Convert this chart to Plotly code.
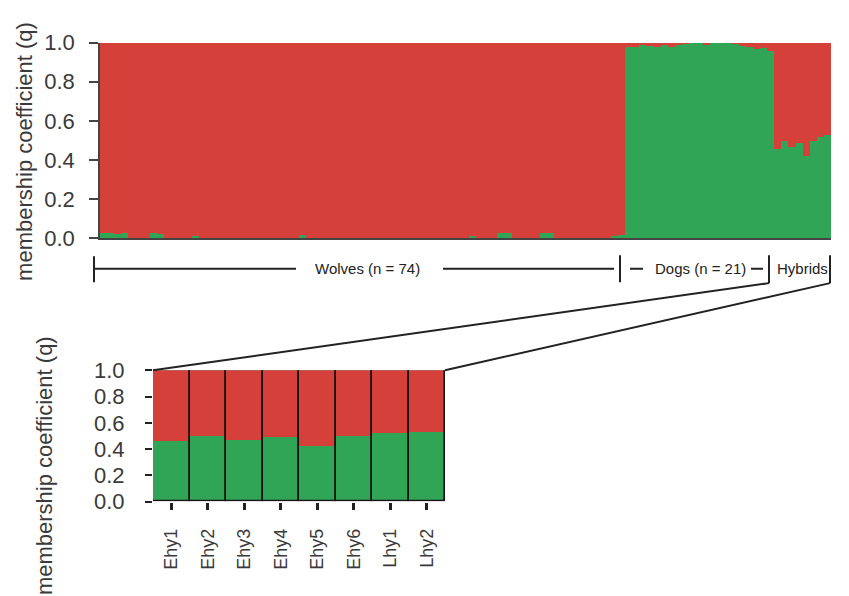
import plotly.graph_objects as go

# Membership coefficient (q) for the dog cluster, one value per individual
wolves_q = [
    0.03, 0.03, 0.025, 0.03, 0.0, 0.0, 0.0, 0.03, 0.025, 0.0,
    0.0, 0.0, 0.0, 0.012, 0.0, 0.0, 0.0, 0.0, 0.0, 0.0,
    0.0, 0.0, 0.0, 0.0, 0.0, 0.0, 0.0, 0.0, 0.02, 0.0,
    0.0, 0.0, 0.0, 0.0, 0.0, 0.0, 0.0, 0.0, 0.0, 0.0,
    0.0, 0.0, 0.0, 0.0, 0.0, 0.0, 0.0, 0.0, 0.0, 0.0,
    0.0, 0.0, 0.012, 0.0, 0.0, 0.0, 0.03, 0.03, 0.0, 0.0,
    0.0, 0.0, 0.03, 0.028, 0.0, 0.0, 0.0, 0.0, 0.0, 0.0,
    0.0, 0.0, 0.01, 0.02,
]
dogs_q = [
    0.98, 0.98, 0.99, 0.985, 0.98, 0.99, 0.98, 0.99, 0.995, 1.0,
    1.0, 0.99, 1.0, 1.0, 1.0, 0.995, 0.985, 0.98, 0.97, 0.975,
    0.96,
]
hybrid_labels = ["Ehy1", "Ehy2", "Ehy3", "Ehy4", "Ehy5", "Ehy6", "Lhy1", "Lhy2"]
hybrids_q = [0.46, 0.50, 0.47, 0.49, 0.42, 0.50, 0.52, 0.53]

y_ticks = [0.0, 0.2, 0.4, 0.6, 0.8, 1.0]

RED = "#D5403A"
GREEN = "#2FA555"
FONT = "Liberation Sans, Arial, sans-serif"
W, H = 849, 596


def px(x):
    return x / W


def py(y):
    return 1 - y / H


all_q = wolves_q + dogs_q + hybrids_q
idx = list(range(len(all_q)))
other_all = [1 - q for q in all_q]
other_hyb = [1 - q for q in hybrids_q]

fig = go.Figure()

# Upper panel: all individuals
fig.add_trace(go.Bar(x=idx, y=all_q, marker=dict(color=GREEN, line=dict(width=0)),
                     xaxis="x", yaxis="y", hoverinfo="skip"))
fig.add_trace(go.Bar(x=idx, y=other_all, base=all_q, marker=dict(color=RED, line=dict(width=0)),
                     xaxis="x", yaxis="y", hoverinfo="skip"))

# Lower panel: hybrids only, with outlined bars
fig.add_trace(go.Bar(x=hybrid_labels, y=hybrids_q, marker=dict(color=GREEN, line=dict(width=0)),
                     xaxis="x2", yaxis="y2", hoverinfo="skip"))
fig.add_trace(go.Bar(x=hybrid_labels, y=other_hyb, base=hybrids_q,
                     marker=dict(color=RED, line=dict(width=0)),
                     xaxis="x2", yaxis="y2", hoverinfo="skip"))
fig.add_trace(go.Bar(x=hybrid_labels, y=[q + r for q, r in zip(hybrids_q, other_hyb)],
                     marker=dict(color="rgba(0,0,0,0)", line=dict(color="#151515", width=1.6)),
                     xaxis="x2", yaxis="y2", hoverinfo="skip"))

axis_font = dict(family=FONT, size=22, color="#3a3a3a")

fig.update_layout(
    width=W, height=H,
    margin=dict(l=0, r=0, t=0, b=0),
    paper_bgcolor="white", plot_bgcolor="white",
    barmode="overlay", bargap=0,
    showlegend=False,
    xaxis=dict(domain=[px(100), px(831)], range=[-0.5, len(all_q) - 0.5],
               showticklabels=False, ticks="", showgrid=False, zeroline=False,
               showline=True, linecolor="#444", linewidth=1.5, anchor="y"),
    yaxis=dict(domain=[py(236), py(32)], range=[0, 1], tickvals=y_ticks, tickformat=".1f",
               ticks="outside", ticklen=9, tickwidth=1.5, tickcolor="#444",
               ticklabelstandoff=10, tickfont=axis_font,
               showgrid=False, zeroline=False, showline=True, linecolor="#444", linewidth=1.5,
               anchor="x"),
    xaxis2=dict(domain=[px(153), px(445)], showgrid=False, zeroline=False,
                ticks="outside", ticklen=7, tickwidth=2.5, tickcolor="#222",
                tickangle=-90, ticklabelstandoff=12,
                tickfont=dict(family=FONT, size=18, color="#3a3a3a"),
                showline=False, anchor="y2"),
    yaxis2=dict(domain=[py(511), py(374)], range=[0, 1], tickvals=y_ticks, tickformat=".1f",
                ticks="outside", ticklen=7, tickwidth=1.5, tickcolor="#222",
                ticklabelstandoff=16, tickfont=axis_font,
                showgrid=False, zeroline=False, showline=False, anchor="x2"),
)

title_font = dict(family=FONT, size=22, color="#3a3a3a")
fig.add_annotation(text="membership coefficient (q)", xref="paper", yref="paper",
                   x=px(25), y=py(146), textangle=-90, showarrow=False, font=title_font,
                   xanchor="center", yanchor="middle")
fig.add_annotation(text="membership coefficient (q)", xref="paper", yref="paper",
                   x=px(44), y=py(474), textangle=-90, showarrow=False, font=title_font,
                   xanchor="center", yanchor="middle")

group_font = dict(family=FONT, size=15, color="#222")
for label, cx in [("Wolves (n = 74)", 367), ("Dogs (n = 21)", 700), ("Hybrids", 802)]:
    fig.add_annotation(text=label, xref="paper", yref="paper", x=px(cx), y=py(268),
                       showarrow=False, font=group_font, xanchor="center", yanchor="middle")

# Group brackets beneath the upper panel and the zoom lines to the lower panel
line_style = dict(color="#222", width=2)
segments = [
    ((94, 268), (296, 268)),
    ((443, 268), (614, 268)),
    ((94, 255), (94, 282)),
    ((620, 254), (620, 282)),
    ((630, 268), (643, 268)),
    ((751, 268), (763, 268)),
    ((769, 254), (769, 283)),
    ((830, 254), (830, 283)),
    ((769, 283), (153, 374)),
    ((830, 283), (445, 374)),
]
for (x0, y0), (x1, y1) in segments:
    fig.add_shape(type="line", xref="paper", yref="paper",
                  x0=px(x0), y0=py(y0), x1=px(x1), y1=py(y1), line=line_style)

fig.write_html("out.html")
